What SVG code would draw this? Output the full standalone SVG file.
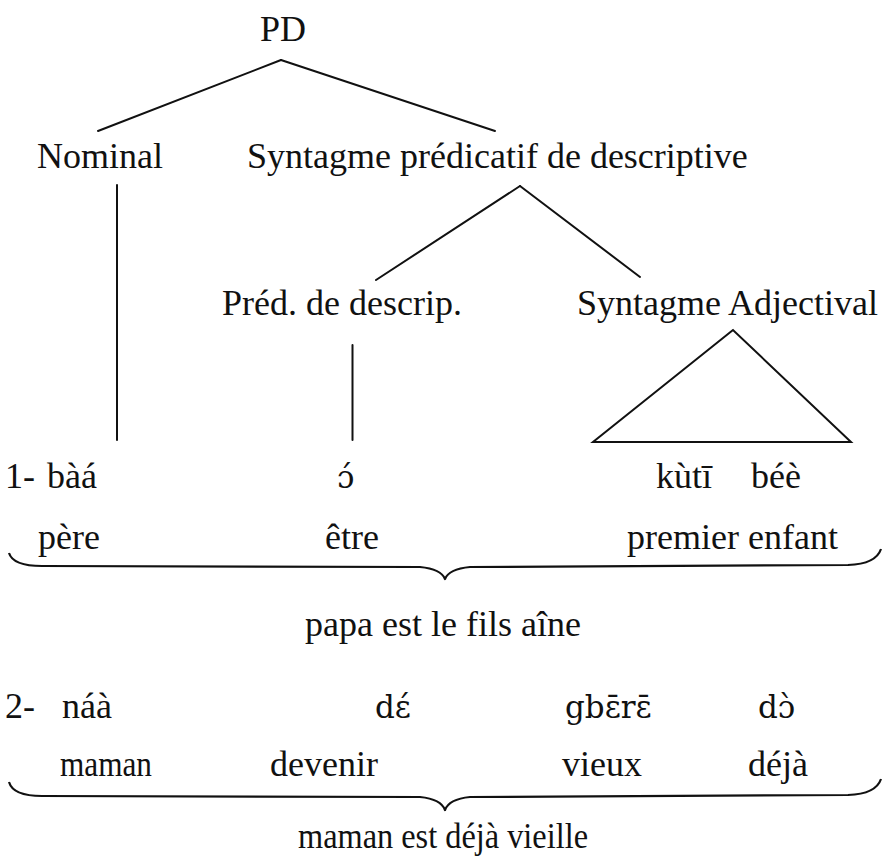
<svg xmlns="http://www.w3.org/2000/svg" width="889" height="858" viewBox="0 0 889 858">
  <style>
    text { font-family: "Liberation Serif", "DejaVu Serif", serif; font-size: 36px; fill: #111; }
    .ipa { font-family: "DejaVu Serif", "Liberation Serif", serif; font-size: 31px; }
    .edge { stroke: #111; stroke-width: 2; fill: none; stroke-linecap: round; stroke-linejoin: miter; }
    .brace { stroke: #111; stroke-width: 2.2; fill: none; stroke-linejoin: round; }
  </style>
  <rect width="889" height="858" fill="#fff"/>

  <!-- tree branches -->
  <g id="connectors">
    <line class="edge" x1="281" y1="60" x2="98" y2="131"/>
    <line class="edge" x1="281" y1="60" x2="495" y2="131"/>
    <line class="edge" x1="117" y1="185" x2="117" y2="440"/>
    <line class="edge" x1="520" y1="186" x2="376" y2="280"/>
    <line class="edge" x1="520" y1="186" x2="640" y2="277"/>
    <line class="edge" x1="352.5" y1="345" x2="352.5" y2="440"/>
    <path class="edge" d="M733,330 L593,442 L851,442 Z"/>
  </g>

  <g id="node-pd"><text x="283" y="41" text-anchor="middle">PD</text></g>
  <g id="node-nominal"><text x="37" y="168">Nominal</text></g>
  <g id="node-spd"><text x="247" y="168">Syntagme prédicatif de descriptive</text></g>
  <g id="node-pred"><text x="222" y="315">Préd. de descrip.</text></g>
  <g id="node-sa"><text x="577" y="315">Syntagme Adjectival</text></g>

  <!-- example 1: words, glosses, translation -->
  <g id="example-1">
    <text x="5" y="488">1-</text>
    <text x="47" y="488">bàá</text>
    <text class="ipa" x="337" y="488">ɔ́</text>
    <text x="656" y="488">kùtī</text>
    <text x="751" y="488">béè</text>
    <text x="38" y="549">père</text>
    <text x="325" y="549">être</text>
    <text x="627" y="549">premier enfant</text>
    <path class="brace" d="M9,553 Q13,566 42,566 L420,567 Q441,569 445,579 Q449,569 470,567 L848,565 Q876,564 881,549"/>
    <text x="443" y="636" text-anchor="middle">papa est le fils aîne</text>
  </g>

  <!-- example 2: words, glosses, translation -->
  <g id="example-2">
    <text x="5" y="718">2-</text>
    <text x="62" y="718">náà</text>
    <text class="ipa" x="375" y="718">dɛ́</text>
    <text class="ipa" x="565" y="718">gbɛ̄rɛ̄</text>
    <text class="ipa" x="758" y="718">dɔ̀</text>
    <text x="60" y="776" textLength="92" lengthAdjust="spacingAndGlyphs">maman</text>
    <text x="270" y="776">devenir</text>
    <text x="562" y="776">vieux</text>
    <text x="748" y="776">déjà</text>
    <path class="brace" d="M9,782 Q13,796 42,796 L420,797 Q441,799 445,810 Q449,799 470,797 L848,795 Q876,794 881,779"/>
    <text x="443" y="848" text-anchor="middle" textLength="290" lengthAdjust="spacingAndGlyphs">maman est déjà vieille</text>
  </g>
</svg>
